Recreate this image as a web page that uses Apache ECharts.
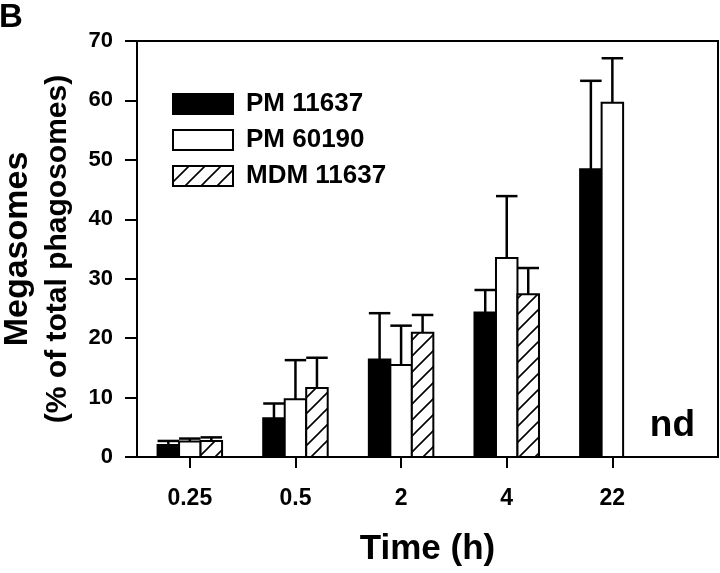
<!DOCTYPE html>
<html>
<head>
<meta charset="utf-8">
<script src="https://cdn.jsdelivr.net/npm/echarts@6/dist/echarts.min.js"></script>
<style>html,body{margin:0;padding:0;background:#fff;}#chart{width:720px;height:573px;}</style>
</head>
<body>
<div id="chart"></div>
<script>
// ---- data ----
var timeLabels = ['0.25', '0.5', '2', '4', '22'];
var timePositions = [1, 2, 3, 4, 5];
var seriesNames = ['PM 11637', 'PM 60190', 'MDM 11637'];
var pm11637Mean = [2.0, 6.5, 16.4, 24.3, 48.4];
var pm11637Err  = [0.7, 2.5, 7.8, 3.8, 14.9];
var pm60190Mean = [2.6, 9.7, 15.5, 33.5, 59.6];
var pm60190Err  = [0.5, 6.6, 6.6, 10.4, 7.5];
var mdm11637Mean = [2.7, 11.6, 20.9, 27.4, null];
var mdm11637Err  = [0.6, 5.1, 3.0, 4.4, null];
var yTicks = [0, 10, 20, 30, 40, 50, 60, 70];
var notDetermined = 'nd';

var FONT = "'Liberation Sans', Arial, Helvetica, sans-serif";
var barUnit = 0.2035;

// hatch pattern
function makeHatch() {
  var s = 16;
  var c = document.createElement('canvas');
  c.width = s; c.height = s;
  var ctx = c.getContext('2d');
  ctx.fillStyle = '#fff';
  ctx.fillRect(0, 0, s, s);
  ctx.strokeStyle = '#000';
  ctx.lineWidth = 1.6;
  ctx.beginPath();
  ctx.moveTo(-2, s + 2); ctx.lineTo(s + 2, -2);
  ctx.moveTo(-2, 2); ctx.lineTo(2, -2);
  ctx.moveTo(s - 2, s + 2); ctx.lineTo(s + 2, s - 2);
  ctx.stroke();
  return c;
}
var hatch = { image: makeHatch(), repeat: 'repeat' };
var fills = ['#000', '#fff', hatch];

function buildData(means, errs) {
  var out = [];
  for (var i = 0; i < timePositions.length; i++) {
    if (means[i] == null) continue;
    out.push([timePositions[i], means[i], errs[i]]);
  }
  return out;
}

function makeRender(idx) {
  return function (params, api) {
    var x = api.value(0) + (idx - 1) * barUnit;
    var m = api.value(1), e = api.value(2);
    var bw = api.size([barUnit, 0])[0];
    var p = api.coord([x, m]);
    var b = api.coord([x, 0]);
    var t = api.coord([x, m + e]);
    return {
      type: 'group',
      children: [
        { type: 'line', shape: { x1: p[0], y1: p[1], x2: t[0], y2: t[1] }, style: { stroke: '#000', lineWidth: 2.5 } },
        { type: 'line', shape: { x1: p[0] - bw / 2, y1: t[1], x2: p[0] + bw / 2, y2: t[1] }, style: { stroke: '#000', lineWidth: 2.5 } },
        { type: 'rect', shape: { x: p[0] - bw / 2, y: p[1], width: bw, height: b[1] - p[1] }, style: { fill: fills[idx], stroke: '#000', lineWidth: 2 } }
      ]
    };
  };
}

var allMeans = [pm11637Mean, pm60190Mean, mdm11637Mean];
var allErrs = [pm11637Err, pm60190Err, mdm11637Err];
var series = seriesNames.map(function (name, i) {
  return {
    name: name,
    type: 'custom',
    renderItem: makeRender(i),
    itemStyle: { color: fills[i], borderColor: '#000', borderWidth: 2 },
    encode: { x: 0, y: 1 },
    data: buildData(allMeans[i], allErrs[i]),
    z: 3
  };
});

var chart = echarts.init(document.getElementById('chart'), null, { renderer: 'canvas' });
chart.setOption({
  animation: false,
  backgroundColor: '#fff',
  title: {
    text: 'B', left: -1, top: 1, padding: 0,
    textStyle: { fontFamily: FONT, fontWeight: 'bold', fontSize: 33, color: '#000' }
  },
  grid: {
    left: 137, right: 2, top: 41, bottom: 116,
    containLabel: false, outerBoundsMode: 'none',
    show: true, borderColor: '#000', borderWidth: 2, backgroundColor: 'transparent'
  },
  legend: {
    data: seriesNames, orient: 'vertical', left: 172, top: 91, padding: 0,
    icon: 'rect', itemWidth: 60, itemHeight: 20, itemGap: 10,
    selectedMode: false,
    textStyle: { fontFamily: FONT, fontWeight: 'bold', fontSize: 26, color: '#000', padding: [0, 0, 0, 8] }
  },
  xAxis: {
    type: 'value', min: 0.5, max: 6,
    name: 'Time (h)', nameLocation: 'middle', nameGap: 75,
    nameTextStyle: { fontFamily: FONT, fontWeight: 'bold', fontSize: 35, color: '#000' },
    axisLine: { lineStyle: { color: '#000', width: 2 } },
    axisTick: { customValues: timePositions, length: 11, lineStyle: { color: '#000', width: 2 } },
    axisLabel: {
      customValues: timePositions, margin: 30,
      fontFamily: FONT, fontWeight: 'bold', fontSize: 23, color: '#000',
      formatter: function (v) { var i = timePositions.indexOf(v); return i >= 0 ? timeLabels[i] : ''; }
    },
    splitLine: { show: false }
  },
  yAxis: {
    type: 'value', min: yTicks[0], max: yTicks[yTicks.length - 1], interval: 10,
    name: '{a|Megasomes}\n{b|(% of total phagosomes)}', nameLocation: 'middle', nameGap: 42,
    nameTextStyle: {
      fontFamily: FONT, fontWeight: 'bold', fontSize: 30, color: '#000', lineHeight: 40,
      rich: {
        a: { fontFamily: FONT, fontWeight: 'bold', fontSize: 34, color: '#000', lineHeight: 40 },
        b: { fontFamily: FONT, fontWeight: 'bold', fontSize: 30, color: '#000', lineHeight: 40 }
      }
    },
    axisLine: { show: true, lineStyle: { color: '#000', width: 2 } },
    axisTick: { show: true, length: 12, lineStyle: { color: '#000', width: 2 } },
    axisLabel: { margin: 24, fontFamily: FONT, fontWeight: 'bold', fontSize: 22, color: '#000' },
    splitLine: { show: false }
  },
  graphic: [{
    type: 'text', right: 25, top: 407, z: 10,
    style: { text: notDetermined, font: 'bold 37px ' + FONT, fill: '#000' }
  }],
  series: series
});
</script>
</body>
</html>
